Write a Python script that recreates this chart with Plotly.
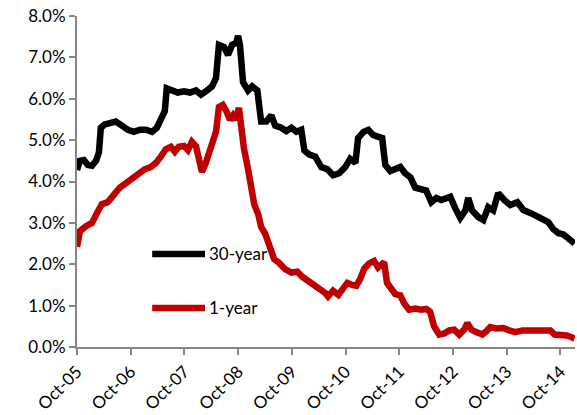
import plotly.graph_objects as go

# 30-year series (percent)
dates_30 = [
    "2005-10-01", "2005-10-21", "2005-11-17", "2005-12-14", "2006-01-11", "2006-02-07",
    "2006-02-27", "2006-03-12", "2006-04-08", "2006-05-12", "2006-06-22", "2006-08-02",
    "2006-09-12", "2006-10-23", "2006-12-03", "2007-01-13", "2007-02-23", "2007-03-28",
    "2007-04-24", "2007-05-21", "2007-06-03", "2007-07-07", "2007-08-17", "2007-09-28",
    "2007-11-08", "2007-12-19", "2008-01-22", "2008-03-03", "2008-04-06", "2008-05-03",
    "2008-05-23", "2008-06-26", "2008-07-24", "2008-08-20", "2008-09-17", "2008-09-30",
    "2008-10-13", "2008-11-03", "2008-12-07", "2009-01-04", "2009-02-08", "2009-03-06",
    "2009-04-10", "2009-05-14", "2009-06-10", "2009-07-21", "2009-08-24", "2009-09-28",
    "2009-11-01", "2009-12-04", "2009-12-25", "2010-01-28", "2010-03-09", "2010-04-19",
    "2010-05-29", "2010-07-08", "2010-08-19", "2010-09-29", "2010-11-01", "2010-12-07",
    "2010-12-25", "2011-01-31", "2011-03-05", "2011-04-08", "2011-05-12", "2011-06-07",
    "2011-06-28", "2011-08-01", "2011-09-04", "2011-10-08", "2011-11-10", "2011-12-16",
    "2012-01-18", "2012-02-21", "2012-04-01", "2012-05-06", "2012-06-09", "2012-07-13",
    "2012-08-16", "2012-09-12", "2012-10-16", "2012-11-19", "2012-12-24", "2013-01-12",
    "2013-02-08", "2013-03-22", "2013-04-25", "2013-05-28", "2013-07-01", "2013-08-04",
    "2013-09-15", "2013-10-25", "2013-12-12", "2014-01-22", "2014-03-10", "2014-04-28",
    "2014-06-07", "2014-07-10", "2014-08-13", "2014-09-18", "2014-10-22", "2014-11-25",
    "2014-12-29", "2015-01-05",
]
values_30 = [
    4.28, 4.50, 4.52, 4.40, 4.38, 4.50,
    4.70, 5.30, 5.38, 5.40, 5.45, 5.35,
    5.25, 5.20, 5.25, 5.25, 5.20, 5.30,
    5.50, 5.70, 6.25, 6.20, 6.15, 6.18,
    6.15, 6.20, 6.10, 6.20, 6.30, 6.50,
    7.30, 7.25, 7.06, 7.30, 7.35, 7.52,
    7.30, 6.40, 6.20, 6.30, 6.20, 5.45,
    5.45, 5.60, 5.35, 5.30, 5.22, 5.30,
    5.20, 5.25, 4.75, 4.65, 4.60, 4.35,
    4.30, 4.15, 4.20, 4.35, 4.55, 4.45,
    5.05, 5.20, 5.25, 5.12, 5.10, 5.05,
    4.40, 4.25, 4.30, 4.35, 4.20, 4.10,
    3.85, 3.80, 3.78, 3.50, 3.60, 3.55,
    3.60, 3.63, 3.35, 3.12, 3.30, 3.60,
    3.30, 3.14, 3.07, 3.38, 3.30, 3.72,
    3.55, 3.43, 3.50, 3.31, 3.24, 3.15,
    3.10, 3.02, 2.85, 2.75, 2.72, 2.62,
    2.52, 2.50,
]

# 1-year series (percent)
dates_1 = [
    "2005-10-01", "2005-10-21", "2005-12-01", "2006-01-11", "2006-02-14", "2006-03-19",
    "2006-04-28", "2006-06-09", "2006-07-19", "2006-09-06", "2006-10-16", "2006-11-27",
    "2007-01-06", "2007-02-15", "2007-03-22", "2007-04-24", "2007-05-28", "2007-07-01",
    "2007-07-28", "2007-08-24", "2007-09-28", "2007-10-25", "2007-11-21", "2007-12-19",
    "2008-01-09", "2008-01-29", "2008-02-24", "2008-03-31", "2008-05-03", "2008-05-23",
    "2008-06-18", "2008-07-15", "2008-08-06", "2008-08-27", "2008-09-16", "2008-10-06",
    "2008-10-21", "2008-11-09", "2008-12-07", "2008-12-28", "2009-01-18", "2009-02-15",
    "2009-03-06", "2009-04-01", "2009-04-28", "2009-06-03", "2009-07-07", "2009-08-16",
    "2009-09-28", "2009-11-07", "2009-12-10", "2010-01-20", "2010-03-02", "2010-04-11",
    "2010-05-17", "2010-06-04", "2010-07-08", "2010-08-13", "2010-09-16", "2010-10-13",
    "2010-11-16", "2010-12-13", "2011-01-09", "2011-02-06", "2011-03-11", "2011-04-13",
    "2011-05-10", "2011-06-01", "2011-06-20", "2011-07-10", "2011-08-06", "2011-09-04",
    "2011-10-08", "2011-11-04", "2011-12-07", "2012-01-18", "2012-02-27", "2012-04-01",
    "2012-04-28", "2012-05-25", "2012-06-29", "2012-08-03", "2012-09-06", "2012-10-09",
    "2012-11-12", "2012-12-16", "2013-01-06", "2013-02-02", "2013-03-07", "2013-04-18",
    "2013-05-15", "2013-06-11", "2013-07-21", "2013-09-08", "2013-10-18", "2013-11-28",
    "2014-01-16", "2014-03-10", "2014-04-28", "2014-06-20", "2014-07-25", "2014-08-22",
    "2014-10-01", "2014-11-11", "2014-12-07", "2015-01-05",
]
values_1 = [
    2.42, 2.80, 2.92, 3.00, 3.24, 3.45,
    3.50, 3.70, 3.85, 3.98, 4.10, 4.22,
    4.30, 4.35, 4.45, 4.60, 4.78, 4.84,
    4.72, 4.84, 4.86, 4.76, 4.96, 4.85,
    4.50, 4.23, 4.45, 4.90, 5.20, 5.80,
    5.85, 5.68, 5.49, 5.60, 5.49, 5.78,
    5.24, 4.80, 4.30, 3.90, 3.45, 3.20,
    2.90, 2.75, 2.45, 2.12, 2.03, 1.88,
    1.80, 1.82, 1.70, 1.60, 1.52, 1.43,
    1.30, 1.22, 1.36, 1.26, 1.40, 1.55,
    1.50, 1.48, 1.65, 1.90, 2.02, 2.08,
    1.92, 2.00, 2.05, 1.55, 1.40, 1.28,
    1.25, 1.05, 0.90, 0.93, 0.90, 0.92,
    0.85, 0.50, 0.30, 0.33, 0.40, 0.42,
    0.30, 0.42, 0.58, 0.42, 0.36, 0.30,
    0.38, 0.48, 0.45, 0.46, 0.40, 0.36,
    0.40, 0.39, 0.40, 0.41, 0.40, 0.30,
    0.30, 0.28, 0.25, 0.20,
]

tick_dates = ["2005-10-01", "2006-10-01", "2007-10-01", "2008-10-01", "2009-10-01",
              "2010-10-01", "2011-10-01", "2012-10-01", "2013-10-01", "2014-10-01"]
tick_labels = ["Oct-05", "Oct-06", "Oct-07", "Oct-08", "Oct-09",
               "Oct-10", "Oct-11", "Oct-12", "Oct-13", "Oct-14"]

series_names = ["30-year", "1-year"]
series_colors = ["#000000", "#C00000"]

FONT = "Lato"
AXIS_GREY = "#868686"

fig = go.Figure()
fig.add_trace(go.Scatter(x=dates_30, y=values_30, mode="lines", name=series_names[0],
                         line=dict(color=series_colors[0], width=6.5), showlegend=False))
fig.add_trace(go.Scatter(x=dates_1, y=values_1, mode="lines", name=series_names[1],
                         line=dict(color=series_colors[1], width=6.5), showlegend=False))

# legend drawn inside plot area
legend_rows = [0.281, 0.118]
for name, color, yy in zip(series_names, series_colors, legend_rows):
    fig.add_shape(type="line", xref="paper", yref="paper", x0=0.151, x1=0.257, y0=yy, y1=yy,
                  line=dict(color=color, width=6.5))
    fig.add_annotation(xref="paper", yref="paper", x=0.262, y=yy, text=name, showarrow=False,
                       xanchor="left", yanchor="middle",
                       font=dict(family=FONT, size=17, color="#000000"))

fig.update_layout(
    width=577, height=415,
    margin=dict(l=77, r=2, t=16, b=68),
    plot_bgcolor="white", paper_bgcolor="white",
    font=dict(family=FONT, size=17, color="#000000"),
    xaxis=dict(type="date", range=["2005-10-01", "2015-01-08"],
               tickvals=tick_dates, ticktext=tick_labels, tickangle=-45,
               showline=True, linecolor=AXIS_GREY, linewidth=2,
               ticks="outside", ticklen=6, tickcolor=AXIS_GREY, tickwidth=2,
               showgrid=False, zeroline=False, automargin=False,
               tickfont=dict(family=FONT, size=17, color="#000000")),
    yaxis=dict(range=[0, 8], dtick=1, tickformat=".1f", ticksuffix="%",
               showline=True, linecolor=AXIS_GREY, linewidth=2,
               ticks="outside", ticklen=6, tickcolor=AXIS_GREY, tickwidth=2,
               showgrid=False, zeroline=False, automargin=False,
               tickfont=dict(family=FONT, size=17, color="#000000")),
)

fig.write_html("out.html", config={"displayModeBar": False},
               post_script="document.body.style.margin='0';document.body.style.overflow='hidden';")
